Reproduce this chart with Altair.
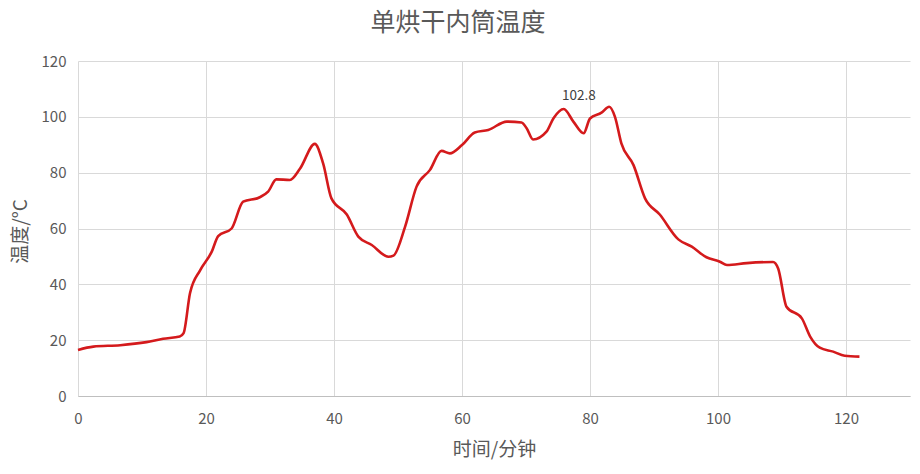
import altair as alt
import pandas as pd

minutes = [0, 2.4, 6.6, 10.7, 13.3, 15.9, 16.5, 17.5, 19.1, 20.9, 21.9, 24.0, 25.8, 28.4, 29.7,
           31.0, 33.1, 34.7, 37.0, 38.3, 39.6, 42.0, 43.8, 45.9, 48.5, 49.3, 51.1, 52.9, 55.0,
           56.8, 58.1, 60.0, 62.0, 64.1, 67.0, 69.3, 70.1, 71.1, 73.2, 74.3, 75.9, 77.4, 79.0,
           80.0, 81.8, 83.0, 83.9, 84.9, 86.8, 88.6, 90.9, 93.8, 95.9, 98.2, 100.3, 101.4,
           104.5, 108.6, 109.4, 110.7, 113.1, 114.4, 115.9, 118.0, 119.8, 122.1]
temps = [16.5, 17.7, 18.2, 19.3, 20.5, 21.3, 22.5, 36.8, 45.1, 51.7, 57.3, 60.0, 69.6, 71.2, 73.2,
         77.6, 77.4, 81.5, 90.3, 83.3, 70.8, 65.0, 57.1, 54.1, 49.9, 50.3, 60.6, 75.0, 81.0,
         87.8, 86.9, 89.9, 94.4, 95.3, 98.3, 98.0, 95.9, 91.9, 94.7, 99.5, 102.8, 98.3, 94.1,
         99.4, 101.5, 103.6, 100.0, 90.5, 82.7, 70.8, 65.0, 56.1, 53.5, 49.7, 48.1, 46.9,
         47.6, 48.0, 45.7, 32.0, 27.8, 21.3, 17.3, 15.9, 14.4, 14.1]

label_x = [75.9]
label_y = [102.8]
label_text = ["102.8"]

df = pd.DataFrame({"t": minutes, "v": temps})
lab = pd.DataFrame({"t": label_x, "v": label_y, "s": label_text})

FONT = "Noto Sans CJK SC"

xs = alt.Scale(domain=[0, 130], nice=False)
ys = alt.Scale(domain=[0, 120], nice=False)

line = alt.Chart(df).mark_line(color="#d41a1c", strokeWidth=2.6, interpolate="monotone").encode(
    x=alt.X("t:Q", scale=xs, title="时间/分钟",
            axis=alt.Axis(values=[0, 20, 40, 60, 80, 100, 120], grid=True, ticks=False,
                          domain=True, domainColor="#bfbfbf", gridColor="#d9d9d9",
                          labelFlush=False,
                          labelPadding=15, titlePadding=14, labelFontSize=15,
                          titleFontSize=19, labelColor="#595959", titleColor="#595959",
                          labelFont=FONT, titleFont=FONT, titleFontWeight="normal")),
    y=alt.Y("v:Q", scale=ys, title="温度/°C",
            axis=alt.Axis(values=[0, 20, 40, 60, 80, 100, 120], grid=True, ticks=False,
                          domain=False, gridColor="#d9d9d9", labelFlush=False,
                          labelPadding=12, labelFontSize=15, titleFontSize=19,
                          labelColor="#595959", titleColor="#595959",
                          labelFont=FONT, titleFont=FONT, titleFontWeight="normal",
                          titleX=-58, titleY=170, titleAngle=-90,
                          titleAlign="center", titleBaseline="middle")),
)

text = alt.Chart(lab).mark_text(font=FONT, fontSize=13.5, color="#404040", dx=15, dy=-13).encode(
    x=alt.X("t:Q", scale=xs),
    y=alt.Y("v:Q", scale=ys),
    text="s:N",
)

chart = (line + text).properties(
    width=832, height=335,
    autosize=alt.AutoSizeParams(type="none"),
    padding={"left": 70, "top": 53, "right": 2, "bottom": 70},
    title=alt.TitleParams("单烘干内筒温度", font=FONT, fontSize=25, fontWeight="normal",
                          color="#595959", anchor="middle", dx=-36, offset=18),
).configure_view(stroke=None)

chart.save("out.html", embed_options={"renderer": "svg", "actions": False})
